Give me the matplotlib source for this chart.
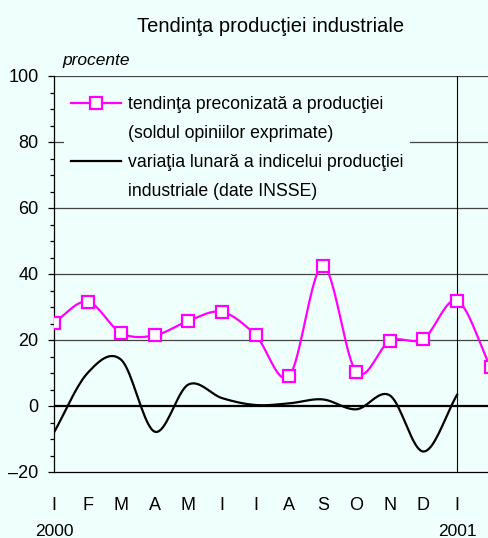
import numpy as np
import matplotlib.pyplot as plt

# month labels on the x axis (Jan 2000 .. Jan 2001)
months = ["I", "F", "M", "A", "M", "I", "I", "A", "S", "O", "N", "D", "I"]
years = {0: "2000", 12: "2001"}

# expected production trend (balance of opinions), Jan 2000 .. Feb 2001
trend = [25.3, 31.6, 22.1, 21.4, 25.8, 28.5, 21.5, 9.0, 42.4, 10.3, 19.7, 20.4, 31.9, 11.7]
# monthly change of industrial production index, Jan 2000 .. Jan 2001
variation = [-8.0, 10.0, 14.0, -7.8, 6.5, 2.4, 0.3, 0.8, 2.0, -1.0, 3.2, -13.8, 3.4]

y_ticks = [-20, 0, 20, 40, 60, 80, 100]

bg = "#EFFFFB"
magenta = "#FF00FF"


def smooth(values, n=20):
    """Catmull-Rom curve through the points (like spreadsheet smoothed lines)."""
    y = np.asarray(values, dtype=float)
    x = np.arange(len(y), dtype=float)
    yp = np.concatenate([[2 * y[0] - y[1]], y, [2 * y[-1] - y[-2]]])
    xs, ys = [], []
    for i in range(len(y) - 1):
        p0, p1, p2, p3 = yp[i], yp[i + 1], yp[i + 2], yp[i + 3]
        t = np.linspace(0, 1, n, endpoint=False)
        seg = 0.5 * ((2 * p1) + (-p0 + p2) * t
                     + (2 * p0 - 5 * p1 + 4 * p2 - p3) * t ** 2
                     + (-p0 + 3 * p1 - 3 * p2 + p3) * t ** 3)
        xs.append(x[i] + t)
        ys.append(seg)
    xs.append([x[-1]])
    ys.append([y[-1]])
    return np.concatenate(xs), np.concatenate(ys)


plt.rcParams["font.family"] = ["Liberation Sans", "DejaVu Sans"]

fig = plt.figure(figsize=(4.89, 5.38), dpi=100)
fig.patch.set_facecolor(bg)
ax = fig.add_axes([54 / 489, 1 - 472 / 538, 1 - 54 / 489, (472 - 76) / 538])
ax.set_facecolor(bg)

ax.set_ylim(-20, 100)
ax.set_xlim(0, 12.95)

# grid lines
for v in y_ticks[2:]:
    ax.axhline(v, color="#444444", linewidth=0.9, zorder=1)
ax.axhline(0, color="black", linewidth=1.6, zorder=2)
ax.axvline(12, color="black", linewidth=0.8, zorder=2)

# series
tx, ty = smooth(trend)
ax.plot(tx, ty, color=magenta, linewidth=1.6, zorder=3)
ax.plot(np.arange(len(trend)), trend, linestyle="none", marker="s", markersize=8,
        markerfacecolor="white", markeredgecolor=magenta, markeredgewidth=1.6,
        zorder=4)
vx, vy = smooth(variation)
ax.plot(vx, vy, color="black", linewidth=1.6, zorder=3)

# legend: handle on the first line of each two-line label
h1, = ax.plot([], [], color=magenta, linewidth=1.6, marker="s", markersize=8,
              markerfacecolor="white", markeredgecolor=magenta, markeredgewidth=1.6)
h2, = ax.plot([], [], color="black", linewidth=1.6)
blank, = ax.plot([], [], color="none")
leg = ax.legend([h1, blank, h2, blank],
                ["tendinţa preconizată a producţiei",
                 "(soldul opiniilor exprimate)",
                 "variaţia lunară a indicelui producţiei",
                 "industriale (date INSSE)"],
                loc="upper left", bbox_to_anchor=(0.023, 0.968), borderaxespad=0,
                frameon=True, facecolor=bg, edgecolor="none", framealpha=1,
                fontsize=12.7, handlelength=2.85, handletextpad=0.35,
                labelspacing=0.68, borderpad=0.4)
leg.set_zorder(5)

# spines and ticks
for s in ["top", "right"]:
    ax.spines[s].set_visible(False)
ax.spines["left"].set_linewidth(0.9)
ax.spines["bottom"].set_linewidth(0.9)
ax.set_yticks(y_ticks)
ax.set_yticks(np.arange(-20, 101, 5), minor=True)
ax.tick_params(axis="y", which="major", direction="out", length=4, width=0.9,
               labelsize=13, pad=7)
ax.tick_params(axis="y", which="minor", direction="out", length=3, width=0.9)
ax.set_yticklabels(["\u201320" if v < 0 else str(v) for v in y_ticks])

ax.set_xticks(range(len(months)))
ax.set_xticklabels(months)
ax.tick_params(axis="x", length=0, labelsize=13, pad=18)
for i, lab in years.items():
    ax.annotate(lab, xy=(i, 0), xycoords=("data", "axes fraction"),
                xytext=(0, -42.5), textcoords="offset points", ha="center",
                va="center", fontsize=12.5)

ax.text(8 / 435, 1 + 16 / 396, "procente", transform=ax.transAxes, fontsize=12.5,
        style="italic", ha="left", va="center")
fig.text(271 / 489, 1 - 26 / 538, "Tendinţa producţiei industriale",
         fontsize=14.5, ha="center", va="center")

fig.savefig("out.png", dpi=100, facecolor=bg)
